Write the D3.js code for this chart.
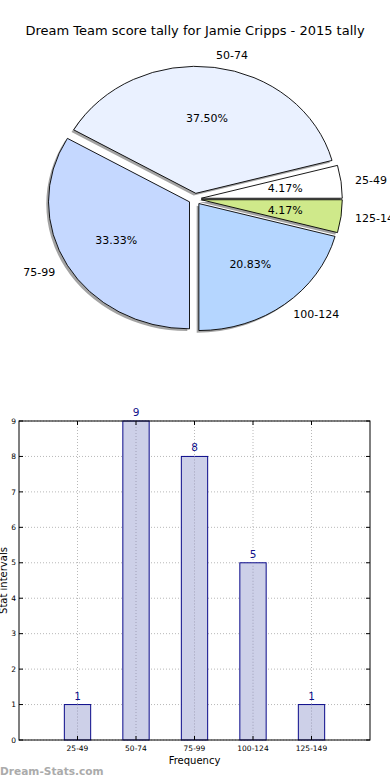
<!DOCTYPE html>
<html><head><meta charset="utf-8">
<script src="https://cdn.jsdelivr.net/npm/d3@7/dist/d3.min.js"></script>
<style>body{margin:0;background:#fff}svg{display:block;font-family:"DejaVu Sans",sans-serif}</style>
</head><body>
<svg id="c" width="390" height="780"></svg>
<script>
const title = "Dream Team score tally for Jamie Cripps - 2015 tally";
const categories = ["25-49", "50-74", "75-99", "100-124", "125-149"];
const counts = [1, 9, 8, 5, 1];
const sliceColors = ["#ffffff", "#eaf1ff", "#c5d8ff", "#b5d6ff", "#cfe98a"];
const yTicks = [0,1,2,3,4,5,6,7,8,9];

const svg = d3.select("#c");
svg.append("text").attr("x",195).attr("y",35).attr("text-anchor","middle")
  .attr("font-size",13).attr("fill","#000").text(title);

// ---- Pie ----
const cx = 195, cy = 199, rx = 141, ry = 127, explode = 0.045;
const total = d3.sum(counts);
const pie = d3.pie().sort(null).value(d=>d).startAngle(Math.PI/2).endAngle(Math.PI/2 - 2*Math.PI);
const arcs = pie(counts);
const arc = d3.arc().innerRadius(0).outerRadius(100);
const gp = svg.append("g");
const off = d => {
  const a = (d.startAngle + d.endAngle)/2;
  return [cx + explode*rx*Math.sin(a), cy - explode*ry*Math.cos(a), a];
};
// shadows
arcs.forEach(d => {
  const [x,y] = off(d);
  gp.append("path").attr("d", arc(d))
    .attr("transform", `translate(${x-2.2},${y+2.2}) scale(${rx/100},${ry/100})`)
    .attr("fill","#8c8c8c").attr("opacity",0.8);
});
arcs.forEach((d,i) => {
  const [x,y] = off(d);
  gp.append("path").attr("d", arc(d))
    .attr("transform", `translate(${x},${y}) scale(${rx/100},${ry/100})`)
    .attr("fill", sliceColors[i]).attr("stroke","#000").attr("stroke-width",0.9)
    .attr("vector-effect","non-scaling-stroke");
});
arcs.forEach((d,i) => {
  const [x,y,a] = off(d);
  const sx = Math.sin(a), sy = -Math.cos(a);
  const lx = x + 1.1*rx*sx, ly = y + 1.1*ry*sy;
  gp.append("text").attr("x",lx).attr("y",ly).attr("dy","0.35em")
    .attr("text-anchor", sx > 0 ? "start" : "end").attr("font-size",11).text(categories[i]);
  const px = x + 0.6*rx*sx, py = y + 0.6*ry*sy;
  gp.append("text").attr("x",px).attr("y",py).attr("dy","0.35em")
    .attr("text-anchor","middle").attr("font-size",11)
    .text((counts[i]/total*100).toFixed(2)+"%");
});

// ---- Bar ----
const L = 19, R = 370, T = 421, B = 740;
const x = d3.scaleLinear().domain([0,6]).range([L,R]);
const y = d3.scaleLinear().domain([0,9]).range([B,T]);
const gb = svg.append("g");
const gridC = "#b8b8b8";
yTicks.forEach(t => {
  gb.append("line").attr("x1",L).attr("x2",R).attr("y1",y(t)).attr("y2",y(t))
    .attr("stroke",gridC).attr("stroke-dasharray","1,2").attr("stroke-width",1);
});
categories.forEach((c,i) => {
  gb.append("line").attr("x1",x(i+1)).attr("x2",x(i+1)).attr("y1",T).attr("y2",B)
    .attr("stroke",gridC).attr("stroke-dasharray","1,2").attr("stroke-width",1);
});
const bw = x(0.45) - x(0);
categories.forEach((c,i) => {
  gb.append("rect").attr("x", x(i+1)-bw/2).attr("y", y(counts[i]))
    .attr("width", bw).attr("height", y(0)-y(counts[i]))
    .attr("fill","#cdd0e8").attr("stroke","#0a0a8a").attr("stroke-width",1);
  gb.append("line").attr("x1",x(i+1)).attr("x2",x(i+1)).attr("y1",y(counts[i])).attr("y2",B)
    .attr("stroke","#a0a0b8").attr("stroke-dasharray","1,2").attr("stroke-width",1);
  gb.append("text").attr("x",x(i+1)).attr("y",y(counts[i])-5).attr("text-anchor","middle")
    .attr("font-size",10.5).attr("fill","#10108a").text(counts[i]);
});
gb.append("rect").attr("x",L).attr("y",T).attr("width",R-L).attr("height",B-T)
  .attr("fill","none").attr("stroke","#000").attr("stroke-width",1);
// ticks (inward) on all sides
yTicks.forEach(t => {
  gb.append("line").attr("x1",L).attr("x2",L+4).attr("y1",y(t)).attr("y2",y(t)).attr("stroke","#000");
  gb.append("line").attr("x1",R-4).attr("x2",R).attr("y1",y(t)).attr("y2",y(t)).attr("stroke","#000");
  gb.append("text").attr("x",L-3).attr("y",y(t)).attr("dy","0.35em").attr("text-anchor","end")
    .attr("font-size",7.5).text(t);
});
categories.forEach((c,i) => {
  gb.append("line").attr("x1",x(i+1)).attr("x2",x(i+1)).attr("y1",B-4).attr("y2",B).attr("stroke","#000");
  gb.append("line").attr("x1",x(i+1)).attr("x2",x(i+1)).attr("y1",T).attr("y2",T+4).attr("stroke","#000");
  gb.append("text").attr("x",x(i+1)).attr("y",B+11).attr("text-anchor","middle")
    .attr("font-size",7.5).text(c);
});
gb.append("text").attr("x",(L+R)/2).attr("y",764).attr("text-anchor","middle")
  .attr("font-size",10).text("Frequency");
gb.append("text").attr("transform",`translate(7,${(T+B)/2}) rotate(-90)`)
  .attr("text-anchor","middle").attr("font-size",10).text("Stat intervals");
svg.append("text").attr("x",0).attr("y",775).attr("font-size",10.6).attr("font-weight","bold")
  .attr("fill","#ababab").text("Dream-Stats.com");
</script>
</body></html>
